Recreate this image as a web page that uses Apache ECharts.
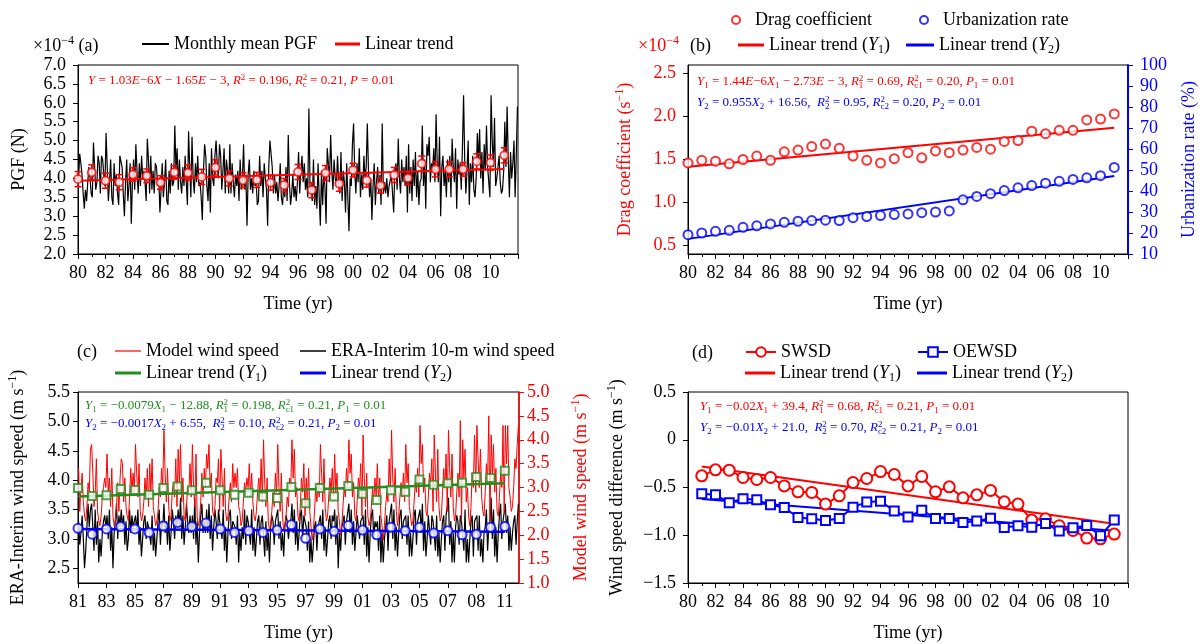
<!DOCTYPE html>
<html><head><meta charset="utf-8">
<script src="https://cdn.jsdelivr.net/npm/echarts@6/dist/echarts.min.js"></script>
<style>html,body{margin:0;padding:0;background:#fff}#c{width:1202px;height:644px}</style>
</head><body><div id="c"></div><script>
// ---------------- DATA ----------------
const yearsA = Array.from({length:32},(_, i)=>1980+i);   // 1980..2011
const yearsC = Array.from({length:31},(_, i)=>1981+i);   // 1981..2011
const xTickLabelsC = [1981,1983,1985,1987,1989,1991,1993,1995,1997,1999,2001,2003,2005,2007,2009,2011];

// (a) monthly mean PGF (x1e-4 N), Jan 1980 .. Dec 2011
const pgfMonthly = [
4.0,4.65,4.4,4.1,3.6,3.2,3.7,3.4,3.9,4.3,4.0,3.6,
3.5,4.95,4.3,3.7,3.9,4.6,4.4,3.6,4.6,4.5,4.1,3.8,
5.2,4.3,3.4,3.9,4.5,3.5,3.3,4.4,3.8,4.1,3.6,3.3,
4.6,4.65,4.3,3.6,3.0,3.9,4.5,3.4,3.8,4.4,2.8,3.9,
4.5,3.7,4.9,4.2,3.6,4.4,3.8,4.6,4.0,4.2,3.9,3.4,
5.05,4.5,3.6,4.6,3.7,4.2,3.6,4.4,4.3,3.8,4.0,3.1,
3.7,4.4,3.5,3.9,4.5,3.4,3.3,4.2,3.6,4.4,3.8,3.9,
5.4,4.2,4.8,3.7,4.5,3.9,3.6,4.3,3.8,4.6,3.9,3.3,
5.25,4.3,3.5,5.1,4.0,3.6,4.4,3.9,4.6,3.8,3.9,3.5,
2.9,4.2,4.9,4.6,3.8,3.4,4.4,3.1,4.8,4.0,3.8,4.6,
5.0,4.4,4.0,4.9,4.6,3.7,4.2,4.8,3.6,4.5,4.2,3.6,
4.9,3.6,4.4,3.9,3.5,4.1,3.8,4.2,3.4,4.5,3.7,4.0,
4.9,3.7,4.1,2.75,4.1,4.5,3.7,4.0,3.6,4.2,3.8,3.9,
3.3,3.4,4.6,3.8,4.2,3.5,4.4,4.0,3.7,2.75,4.3,5.0,
5.05,4.3,3.6,4.1,3.6,3.9,3.4,3.8,4.4,3.5,3.3,3.8,
3.5,4.3,3.4,5.15,3.9,3.3,3.6,4.1,3.5,3.8,3.4,3.9,
4.7,3.6,4.2,4.6,3.9,4.4,3.7,4.0,3.5,5.85,3.8,3.6,
3.4,4.5,3.3,3.8,3.2,4.4,3.5,2.75,4.2,3.3,4.1,3.8,
2.8,4.8,4.4,3.9,5.15,4.2,3.7,4.5,4.0,3.8,4.6,3.9,
3.6,4.7,3.4,4.2,3.9,3.1,4.4,3.5,2.6,4.0,3.8,4.9,
5.45,4.2,3.6,4.4,3.9,4.8,3.5,4.1,3.7,4.6,4.0,4.3,
5.45,4.2,3.5,4.0,2.9,3.8,4.4,3.3,3.9,4.3,3.6,4.1,
3.3,5.45,3.6,3.9,3.6,4.0,3.5,3.8,3.8,4.1,3.6,3.1,
4.2,4.4,3.7,5.05,4.0,3.6,4.5,3.9,4.3,3.8,4.6,3.1,
4.9,3.6,4.3,3.4,4.5,3.8,4.7,3.5,4.2,3.3,3.9,4.0,
5.4,3.8,4.5,3.2,4.9,4.6,5.1,3.9,4.4,4.2,4.8,3.9,
5.7,4.4,3.9,5.1,3.0,4.3,4.6,3.8,4.2,3.5,4.5,3.9,
4.6,3.5,5.05,4.3,3.9,4.8,3.2,4.5,4.1,4.4,3.7,4.8,
6.2,4.5,3.6,4.2,5.0,3.3,4.4,3.9,4.6,3.7,3.5,4.0,
5.2,4.4,5.3,4.0,4.7,3.6,4.9,4.2,5.4,4.3,3.9,3.5,
6.2,5.0,4.3,5.6,3.8,4.0,4.0,4.6,3.9,3.6,3.7,4.2,
5.5,4.3,5.9,4.5,3.5,4.7,4.0,4.4,5.0,3.5,4.6,5.9
];
const pgfAnnual = [3.98,4.16,3.94,3.90,4.10,4.07,3.89,4.16,4.15,4.04,4.29,4.00,3.95,3.96,3.89,3.82,4.17,3.69,4.14,3.86,4.22,3.95,3.81,4.09,4.01,4.39,4.24,4.24,4.24,4.45,4.42,4.61];
const pgfErr    = [0.2,0.2,0.2,0.2,0.18,0.18,0.18,0.18,0.2,0.2,0.2,0.2,0.2,0.2,0.2,0.18,0.2,0.2,0.2,0.2,0.18,0.18,0.2,0.2,0.18,0.2,0.2,0.2,0.18,0.2,0.2,0.2];
const pgfTrend  = [[1980,3.94],[2011,4.25]];

// (b) drag coefficient (x1e-4 s^-1) and urbanization rate (%)
const dragCoef  = [1.46,1.49,1.48,1.45,1.50,1.54,1.49,1.59,1.61,1.65,1.68,1.63,1.54,1.49,1.46,1.51,1.58,1.52,1.60,1.58,1.61,1.64,1.62,1.71,1.72,1.83,1.80,1.84,1.84,1.96,1.97,2.03];
const urbanRate = [19.2,20.0,20.8,21.3,22.7,23.4,24.3,25.1,25.6,25.9,26.1,25.9,27.3,27.8,28.3,28.8,29.1,29.7,30.0,30.5,35.8,37.4,38.7,40.2,41.5,42.6,43.7,44.6,45.5,46.3,47.3,51.2];
const dragTrend  = [[1980,1.417],[2011,1.869]];
const urbanTrend = [[1980,17.2],[2011,47.1]];

// (c) monthly model wind speed and ERA-Interim 10-m wind speed (m/s), Jan 1981 .. Dec 2011
const modelMonthly = [
3.4,2.5,3.0,3.3,2.7,2.4,2.3,2.6,3.1,2.9,3.8,3.9,
3.3,2.6,2.9,3.6,2.5,2.3,2.2,2.4,2.8,3.0,3.2,3.0,
3.7,2.9,3.2,2.6,3.4,2.4,2.2,2.3,2.6,3.1,2.5,3.2,
3.6,3.5,2.7,3.2,2.6,2.4,2.3,2.8,3.4,2.9,3.3,2.9,
3.9,3.3,2.8,3.5,2.5,2.3,2.4,2.7,3.2,2.8,3.4,2.6,
3.5,2.9,3.6,2.6,2.4,2.2,2.3,2.5,3.0,2.8,3.4,3.0,
4.2,3.3,2.7,3.4,2.6,2.3,2.4,2.9,3.1,2.8,3.6,2.6,
3.8,3.1,3.9,2.7,3.2,2.4,2.3,2.6,3.0,2.9,3.5,2.8,
3.9,3.0,2.6,3.7,2.4,2.2,2.3,2.7,3.3,2.8,3.4,3.0,
3.7,3.4,3.9,3.0,3.3,2.5,2.4,2.6,3.2,3.1,3.6,2.5,
3.8,3.2,2.6,3.4,2.5,2.3,2.4,2.8,3.1,2.7,3.5,3.0,
3.3,3.0,3.4,2.6,2.5,2.2,2.3,2.7,3.1,2.9,3.2,3.0,
3.5,2.8,3.3,2.7,2.4,2.3,2.5,2.9,3.2,2.8,3.6,2.7,
4.0,3.1,2.6,3.2,2.3,2.1,2.2,2.5,2.9,2.6,3.3,2.9,
3.9,3.0,2.5,3.3,2.4,2.1,2.2,2.4,2.8,2.6,3.2,3.0,
4.0,3.2,3.8,2.8,3.0,2.4,2.3,2.6,3.2,2.9,3.5,2.4,
3.2,2.6,3.4,2.5,2.2,1.9,2.1,2.5,3.0,2.7,3.1,2.8,
3.9,3.3,2.7,3.6,2.6,2.3,2.4,2.8,3.2,2.9,3.4,2.8,
3.7,2.9,3.3,2.5,2.3,2.0,2.2,2.6,3.0,2.8,3.4,3.0,
4.0,3.3,3.7,2.8,3.1,2.4,2.3,2.7,3.2,3.0,3.5,2.4,
4.1,3.2,2.6,3.3,2.4,2.2,2.3,2.6,3.0,2.7,3.2,2.8,
3.5,2.7,3.2,2.4,2.2,1.9,2.2,2.6,2.9,2.7,3.6,2.9,
4.2,3.2,2.7,3.4,2.5,2.2,2.4,2.8,3.1,2.8,3.3,2.7,
3.9,3.1,3.5,2.6,2.4,2.2,2.3,2.7,3.1,2.9,3.4,2.8,
4.3,3.5,3.9,2.9,3.2,2.5,2.4,2.8,3.3,3.1,3.6,2.5,
4.1,3.3,2.7,3.8,2.6,2.3,2.4,2.9,3.4,3.0,3.7,2.5,
4.2,3.4,2.8,3.7,2.6,2.3,2.4,2.9,3.3,2.8,4.4,2.3,
4.0,3.2,3.8,2.7,3.0,2.4,2.2,2.6,3.3,3.0,4.1,2.9,
4.3,3.6,3.0,3.8,2.8,2.5,2.4,2.9,3.5,3.1,4.5,2.3,
4.1,3.3,3.9,2.9,3.4,2.5,2.4,2.8,3.3,3.0,4.3,2.5,
4.3,3.5,4.3,3.0,2.8,2.5,2.6,3.0,3.6,3.4,3.9,4.3
];
const eraMonthly = [
3.3,2.9,3.1,3.4,3.0,2.5,2.8,3.2,3.6,3.2,3.5,3.6,
3.2,2.8,3.5,2.9,3.3,2.6,3.0,2.7,3.1,3.3,3.4,3.2,
3.4,3.0,3.5,2.8,3.2,2.5,3.1,3.3,3.6,3.0,3.4,3.2,
3.5,3.2,3.4,2.9,3.3,2.8,3.0,3.5,3.1,3.4,3.2,3.2,
3.4,3.1,3.5,2.9,3.2,2.7,3.0,3.3,3.4,3.0,3.3,3.2,
3.2,2.9,3.4,2.8,3.1,2.7,3.0,3.3,3.5,2.9,3.3,3.2,
3.6,3.1,3.3,2.9,3.4,2.8,3.1,3.5,3.3,3.0,3.4,3.2,
3.5,3.2,3.7,3.0,3.4,2.9,3.2,3.6,3.3,3.1,3.4,3.1,
3.4,3.0,3.7,2.9,3.3,2.6,3.1,3.4,3.6,3.1,3.3,3.1,
3.5,3.1,3.6,3.0,3.4,2.8,3.2,3.5,3.3,3.0,3.5,3.3,
3.3,3.0,3.5,2.8,3.2,2.6,3.1,3.4,3.5,3.0,3.3,3.3,
3.2,2.9,3.4,2.6,3.1,2.8,3.2,3.0,3.5,2.9,3.4,3.3,
3.3,2.9,3.5,2.8,3.2,2.7,3.0,3.3,3.4,2.9,3.3,3.4,
3.4,2.7,3.3,2.8,3.1,2.6,3.2,3.4,3.3,2.9,3.3,3.3,
3.5,3.0,3.3,2.8,3.1,2.7,3.2,3.4,3.3,3.0,3.2,3.3,
3.6,3.1,3.5,2.9,3.3,2.8,3.1,3.4,3.5,3.0,3.4,3.3,
3.2,2.8,3.3,2.6,3.0,2.6,2.9,3.2,3.3,2.8,3.2,3.2,
3.4,3.0,3.5,2.8,3.2,2.7,3.0,3.3,3.4,3.0,3.4,3.3,
3.5,2.9,3.4,2.5,3.1,2.8,3.2,3.3,3.4,2.9,3.3,3.3,
3.6,3.1,3.5,2.9,3.3,2.8,3.1,3.4,3.4,3.0,3.3,3.3,
3.4,2.9,3.5,2.7,3.2,2.6,3.1,3.4,3.5,3.0,3.3,3.2,
3.3,2.8,3.4,2.6,3.1,2.6,3.0,3.2,3.4,2.8,3.3,3.3,
3.6,3.0,3.5,2.8,3.2,2.7,3.1,3.4,3.5,3.0,3.3,3.3,
3.4,2.9,3.4,2.7,3.1,2.7,3.0,3.4,3.5,2.9,3.3,3.4,
3.5,3.1,3.6,2.8,3.3,2.7,3.0,3.4,3.4,2.9,3.4,3.3,
3.3,2.8,3.4,2.7,3.1,2.6,3.0,3.3,3.4,2.8,3.4,3.4,
3.7,2.9,3.3,2.6,3.1,2.6,3.2,3.4,3.3,2.9,3.4,3.3,
3.3,2.8,3.5,2.6,3.0,2.6,3.0,3.3,3.4,2.7,3.3,3.3,
3.4,2.8,3.4,2.7,3.0,2.6,3.1,3.2,3.5,2.8,3.2,3.3,
3.7,3.0,3.5,2.7,3.2,2.6,3.1,3.4,3.6,3.0,3.3,3.3,
3.6,3.1,3.4,2.8,3.2,2.8,3.1,3.3,3.4,2.9,3.3,3.6
];
const modelAnnual = [2.99,2.82,2.84,2.97,2.95,2.85,2.99,3.02,2.94,3.10,2.94,2.85,2.89,2.81,2.78,3.01,2.67,2.99,2.81,3.03,2.87,2.74,2.94,2.91,3.17,3.06,3.09,3.10,3.22,3.20,3.35];
const eraAnnual   = [3.18,3.08,3.17,3.21,3.17,3.11,3.22,3.28,3.21,3.27,3.17,3.11,3.14,3.11,3.15,3.24,3.01,3.17,3.13,3.23,3.15,3.07,3.20,3.14,3.20,3.10,3.14,3.07,3.08,3.20,3.21];
const modelTrend = [[1981,2.81],[2011,3.09]];
const eraTrend   = [[1981,3.17],[2011,3.12]];

// (d) wind speed differences (m/s)
const swsd  = [-0.378,-0.315,-0.319,-0.395,-0.416,-0.395,-0.483,-0.545,-0.552,-0.674,-0.587,-0.448,-0.406,-0.333,-0.364,-0.483,-0.385,-0.545,-0.493,-0.608,-0.577,-0.531,-0.650,-0.674,-0.841,-0.828,-0.901,-0.950,-1.030,-1.037,-0.988];
const oewsd = [-0.566,-0.577,-0.660,-0.618,-0.629,-0.681,-0.709,-0.814,-0.828,-0.845,-0.824,-0.706,-0.653,-0.643,-0.746,-0.810,-0.737,-0.824,-0.824,-0.866,-0.852,-0.821,-0.918,-0.901,-0.915,-0.876,-0.956,-0.922,-0.897,-1.005,-0.841];
const swsdTrend  = [[1981,-0.28],[2011,-0.88]];
const oewsdTrend = [[1981,-0.62],[2011,-0.953]];

// tick label values
const yTicksB = [0.5,1.0,1.5,2.0,2.5];
const yTicksC = [2.5,3.0,3.5,4.0,4.5,5.0,5.5];

// ---------------- STYLE / HELPERS ----------------
const F = '"Liberation Serif","Times New Roman",serif';
const RED='#ff0000', BLUE='#0000ff', GREEN='#1f8f1f', BLACK='#000000';

function richFor(color, size){
  const sm = Math.round(size*0.68);
  return {
    i:{fontStyle:'italic', fontFamily:F, fontSize:size, color, fill:color},
    s:{fontFamily:F, fontSize:sm, color, fill:color, padding:[Math.round(size*0.5),0,0,0]},
    p:{fontFamily:F, fontSize:sm, color, fill:color, padding:[0,0,Math.round(size*0.55),0]},
    pz:{fontFamily:F, fontSize:sm, color, fill:color, padding:[0,0,Math.round(size*0.55),0], width:0}
  };
}
function gtext(x, y, text, color, size){
  return {type:'text', x, y, silent:true, z:100,
    style:{text, fill:color, fontFamily:F, fontSize:size, align:'left', verticalAlign:'middle', rich:richFor(color,size)}};
}
const legFmt = name => name.split('#')[0].replace(/\(Y(\d)\)/, '({i|Y}{s|$1})');
function leg(name, left, top, w, h, item){
  return {data:[Object.assign({name}, item||{})], left, top, itemWidth:w, itemHeight:h, padding:0, itemGap:0,
    selectedMode:false, formatter:legFmt,
    textStyle:{fontFamily:F, fontSize:18, color:'#000', rich:richFor('#000',18)}};
}
// a plain line swatch for legend entries of line series drawn without symbols
const lineLeg = (name, left, center, w, thick) => leg(name, left, center - 10, w, thick, {icon:'rect'});
const pad2 = v => String(((v%100)+100)%100).padStart(2,'0');
const axLine = (c,w)=>({show:true, onZero:false, lineStyle:{color:c, width:w||1}});
function xAx(grid, extra){
  return Object.assign({type:'value', gridIndex:grid, min:1980, max:2012, interval:2,
    axisLine:axLine('#000'), axisTick:{show:true, length:5, lineStyle:{color:'#000'}},
    minorTick:{show:true, splitNumber:2, length:3, lineStyle:{color:'#000'}},
    splitLine:{show:false}, minorSplitLine:{show:false},
    axisLabel:{fontFamily:F, fontSize:18, color:'#000', margin:10, formatter:v => v>=2012 ? '' : pad2(v)},
    name:'Time (yr)', nameLocation:'middle', nameGap:41,
    nameTextStyle:{fontFamily:F, fontSize:18, color:'#000'}}, extra||{});
}
function yAx(grid, o){
  const c = o.color || '#000';
  return {type:'value', gridIndex:grid, position:o.position||'left', min:o.min, max:o.max, interval:o.interval,
    axisLine:axLine(o.lineColor||'#000', o.lineWidth||1),
    axisTick:Object.assign({show:true, length:5, lineStyle:{color:o.lineColor||'#000'}}, o.ticks?{customValues:o.ticks}:{}),
    splitLine:{show:false},
    axisLabel:Object.assign({fontFamily:F, fontSize:18, color:c, margin:o.margin||10, formatter:o.fmt||(v=>v.toFixed(1))}, o.ticks?{customValues:o.ticks}:{}),
    name:o.name, nameLocation:'middle', nameRotate:90, nameGap:o.gap,
    nameTextStyle:{fontFamily:F, fontSize:18, color:c, rich:richFor(c,18)}};
}
const monthX = (start, i) => start + (i+0.5)/12;

// ---------------- CHART ----------------
const chart = echarts.init(document.getElementById('c'), null, {renderer:'canvas'});
const gridStyle = {show:true, borderColor:'#000', borderWidth:1, backgroundColor:'transparent'};

const option = {
  animation:false,
  backgroundColor:'#fff',
  grid:[
    Object.assign({left:78, top:65, width:440, height:189}, gridStyle),
    Object.assign({left:688, top:65, width:440, height:189}, gridStyle),
    Object.assign({left:78, top:392, width:441, height:191}, gridStyle),
    Object.assign({left:688, top:392, width:440, height:191}, gridStyle)
  ],
  xAxis:[
    xAx(0), xAx(1),
    xAx(2, {min:1981, interval:null, minorTick:{show:false},
      axisTick:{show:true, length:5, lineStyle:{color:'#000'}, customValues:xTickLabelsC},
      axisLabel:{fontFamily:F, fontSize:18, color:'#000', margin:10, customValues:xTickLabelsC,
        formatter:v => v===2009 ? '08' : pad2(v)}}),
    xAx(3)
  ],
  yAxis:[
    yAx(0, {min:2, max:7, interval:0.5, name:'PGF (N)', gap:50, margin:12}),
    yAx(1, {min:0.4, max:2.6, ticks:yTicksB, color:RED, name:'Drag coefficient (s{p|−1})', gap:52, margin:12}),
    yAx(1, {position:'right', min:10, max:100, interval:10, color:BLUE, lineColor:BLUE, lineWidth:2,
      fmt:v=>String(v), name:'Urbanization rate (%)', gap:52, margin:12}),
    yAx(2, {min:2.25, max:5.5, ticks:yTicksC, name:'ERA-Interim wind speed (m s{p|−1})', gap:49, margin:8}),
    yAx(2, {position:'right', min:1, max:5, interval:0.5, color:RED, lineColor:RED, lineWidth:1.5,
      name:'Model wind speed (m s{p|−1})', gap:51, margin:8}),
    yAx(3, {min:-1.5, max:0.5, interval:0.5, name:'Wind speed difference (m s{p|−1})', gap:60, margin:12,
      fmt:v => v===0 ? '0' : (v<0?'−':'') + Math.abs(v).toFixed(1)})
  ],
  legend:[
    lineLeg('Monthly mean PGF', 142, 45, 27, 2),
    lineLeg('Linear trend', 335, 45, 25, 3),
    leg('Drag coefficient', 731, 11, 28, 8),
    leg('Urbanization rate', 919, 11, 28, 8),
    lineLeg('Linear trend (Y1)#b', 738, 46, 26, 3),
    lineLeg('Linear trend (Y2)#b', 906, 46, 28, 3),
    lineLeg('Model wind speed', 115, 352, 26, 1.2),
    lineLeg('ERA-Interim 10-m wind speed', 300, 352, 26, 1.5),
    lineLeg('Linear trend (Y1)#c', 115, 374, 26, 3),
    lineLeg('Linear trend (Y2)#c', 300, 374, 26, 3),
    leg('SWSD', 745, 343, 30, 12),
    leg('OEWSD', 917, 343, 30, 12),
    lineLeg('Linear trend (Y1)#d', 745, 374, 30, 3),
    lineLeg('Linear trend (Y2)#d', 917, 374, 30, 3)
  ],
  graphic:[
    gtext(33, 46, '×10{p|−4} (a)', BLACK, 18),
    gtext(638, 46, '×10{p|−4}', RED, 18),
    gtext(690, 46, '(b)', BLACK, 18),
    gtext(77, 352, '(c)', BLACK, 18),
    gtext(692, 353, '(d)', BLACK, 18),
    gtext(88, 81, '{i|Y} = 1.03{i|E}−6{i|X} − 1.65{i|E} − 3, {i|R}{p|2} = 0.196, {i|R}{pz|2}{s|c} = 0.21, {i|P} = 0.01', RED, 13),
    gtext(697, 82, '{i|Y}{s|1} = 1.44{i|E}−6{i|X}{s|1} − 2.73{i|E} − 3, {i|R}{pz|2}{s|1} = 0.69, {i|R}{pz|2}{s|c1} = 0.20, {i|P}{s|1} = 0.01', RED, 13),
    gtext(697, 103, '{i|Y}{s|2} = 0.955{i|X}{s|2} + 16.56,  {i|R}{pz|2}{s|2} = 0.95, {i|R}{pz|2}{s|c2} = 0.20, {i|P}{s|2} = 0.01', BLUE, 13),
    gtext(85, 406, '{i|Y}{s|1} = −0.0079{i|X}{s|1} − 12.88, {i|R}{pz|2}{s|1} = 0.198, {i|R}{pz|2}{s|c1} = 0.21, {i|P}{s|1} = 0.01', GREEN, 13),
    gtext(85, 424, '{i|Y}{s|2} = −0.0017{i|X}{s|2} + 6.55,  {i|R}{pz|2}{s|2} = 0.10, {i|R}{pz|2}{s|c2} = 0.21, {i|P}{s|2} = 0.01', BLUE, 13),
    gtext(700, 407, '{i|Y}{s|1} = −0.02{i|X}{s|1} + 39.4, {i|R}{pz|2}{s|1} = 0.68, {i|R}{pz|2}{s|c1} = 0.21, {i|P}{s|1} = 0.01', RED, 13),
    gtext(700, 428, '{i|Y}{s|2} = −0.01{i|X}{s|2} + 21.0,  {i|R}{pz|2}{s|2} = 0.70, {i|R}{pz|2}{s|c2} = 0.21, {i|P}{s|2} = 0.01', BLUE, 13)
  ],
  series:[
    // (a)
    {type:'line', name:'Monthly mean PGF', xAxisIndex:0, yAxisIndex:0, symbol:'none', z:2,
      data:pgfMonthly.map((v,i)=>[monthX(1980,i), v]), lineStyle:{color:BLACK, width:1.2}, itemStyle:{color:BLACK}},
    {type:'line', name:'Linear trend', xAxisIndex:0, yAxisIndex:0, symbol:'none', z:3,
      data:pgfTrend, lineStyle:{color:RED, width:2}, itemStyle:{color:RED}},
    {type:'custom', xAxisIndex:0, yAxisIndex:0, z:4,
      data:yearsA.map((y,i)=>[y, pgfAnnual[i]-pgfErr[i], pgfAnnual[i]+pgfErr[i]]),
      encode:{x:0, y:[1,2]},
      renderItem:(params, api)=>{
        const x=api.value(0), lo=api.coord([x, api.value(1)]), hi=api.coord([x, api.value(2)]);
        const w=3.5, st={stroke:RED, lineWidth:1.5};
        return {type:'group', children:[
          {type:'line', shape:{x1:lo[0], y1:lo[1], x2:hi[0], y2:hi[1]}, style:st},
          {type:'line', shape:{x1:lo[0]-w, y1:lo[1], x2:lo[0]+w, y2:lo[1]}, style:st},
          {type:'line', shape:{x1:hi[0]-w, y1:hi[1], x2:hi[0]+w, y2:hi[1]}, style:st}
        ]};
      }},
    {type:'scatter', xAxisIndex:0, yAxisIndex:0, z:5, symbol:'circle', symbolSize:8,
      data:yearsA.map((y,i)=>[y, pgfAnnual[i]]), itemStyle:{color:'#fff', borderColor:RED, borderWidth:1.8}},
    // (b)
    {type:'line', name:'Linear trend (Y1)#b', xAxisIndex:1, yAxisIndex:1, symbol:'none', z:3,
      data:dragTrend, lineStyle:{color:RED, width:2}, itemStyle:{color:RED}},
    {type:'line', name:'Linear trend (Y2)#b', xAxisIndex:1, yAxisIndex:2, symbol:'none', z:3,
      data:urbanTrend, lineStyle:{color:BLUE, width:2}, itemStyle:{color:BLUE}},
    {type:'scatter', name:'Drag coefficient', xAxisIndex:1, yAxisIndex:1, z:5, symbol:'emptyCircle', symbolSize:9,
      data:yearsA.map((y,i)=>[y, dragCoef[i]]), itemStyle:{color:RED, borderColor:RED, borderWidth:2}},
    {type:'scatter', name:'Urbanization rate', xAxisIndex:1, yAxisIndex:2, z:5, symbol:'emptyCircle', symbolSize:9,
      data:yearsA.map((y,i)=>[y, urbanRate[i]]), itemStyle:{color:BLUE, borderColor:BLUE, borderWidth:2}},
    // (c)
    {type:'line', name:'ERA-Interim 10-m wind speed', xAxisIndex:2, yAxisIndex:3, symbol:'none', z:2,
      data:eraMonthly.map((v,i)=>[monthX(1981,i), v]), lineStyle:{color:BLACK, width:1.2}, itemStyle:{color:BLACK}},
    {type:'line', name:'Model wind speed', xAxisIndex:2, yAxisIndex:4, symbol:'none', z:2,
      data:modelMonthly.map((v,i)=>[monthX(1981,i), v]), lineStyle:{color:RED, width:1}, itemStyle:{color:RED}},
    {type:'line', name:'Linear trend (Y1)#c', xAxisIndex:2, yAxisIndex:4, symbol:'none', z:4,
      data:modelTrend, lineStyle:{color:GREEN, width:2.5}, itemStyle:{color:GREEN}},
    {type:'scatter', xAxisIndex:2, yAxisIndex:4, z:5, symbol:'emptyRect', symbolSize:8,
      data:yearsC.map((y,i)=>[y, modelAnnual[i]]), itemStyle:{color:GREEN, borderColor:GREEN, borderWidth:1.5}},
    {type:'line', name:'Linear trend (Y2)#c', xAxisIndex:2, yAxisIndex:3, symbol:'none', z:4,
      data:eraTrend, lineStyle:{color:BLUE, width:2.5}, itemStyle:{color:BLUE}},
    {type:'scatter', xAxisIndex:2, yAxisIndex:3, z:5, symbol:'emptyCircle', symbolSize:9,
      data:yearsC.map((y,i)=>[y, eraAnnual[i]]), itemStyle:{color:BLUE, borderColor:BLUE, borderWidth:1.5}},
    // (d)
    {type:'line', name:'Linear trend (Y1)#d', xAxisIndex:3, yAxisIndex:5, symbol:'none', z:3,
      data:swsdTrend, lineStyle:{color:RED, width:2}, itemStyle:{color:RED}},
    {type:'line', name:'Linear trend (Y2)#d', xAxisIndex:3, yAxisIndex:5, symbol:'none', z:3,
      data:oewsdTrend, lineStyle:{color:BLUE, width:2}, itemStyle:{color:BLUE}},
    {type:'line', name:'SWSD', xAxisIndex:3, yAxisIndex:5, z:4, symbol:'emptyCircle', symbolSize:11, showSymbol:true,
      data:yearsC.map((y,i)=>[y, swsd[i]]), lineStyle:{color:RED, width:2}, itemStyle:{color:RED, borderColor:RED, borderWidth:2}},
    {type:'line', name:'OEWSD', xAxisIndex:3, yAxisIndex:5, z:4, symbol:'emptyRect', symbolSize:9, showSymbol:true,
      data:yearsC.map((y,i)=>[y, oewsd[i]]), lineStyle:{color:BLUE, width:2}, itemStyle:{color:BLUE, borderColor:BLUE, borderWidth:2}}
  ]
};
chart.setOption(option);
</script></body></html>
